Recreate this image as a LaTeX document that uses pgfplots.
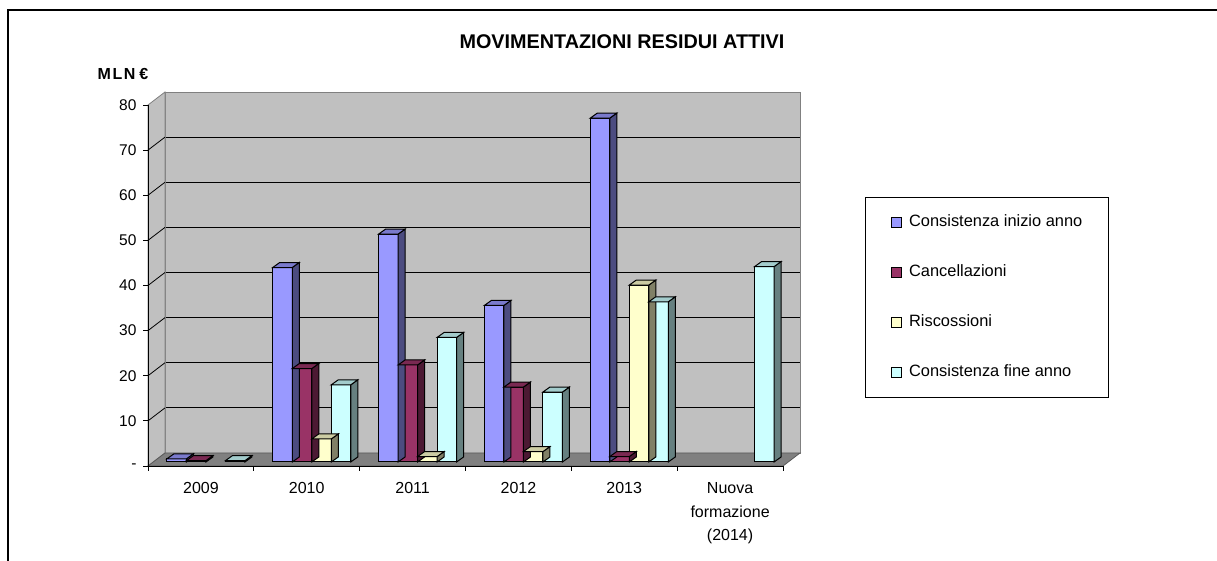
\documentclass[border=0pt]{standalone}
\usepackage{fontspec}
\setmainfont{Liberation Sans}
\usepackage{pgfplots}
\usepackage{pgfplotstable}
\pgfplotsset{compat=1.18}

\definecolor{cblue}{RGB}{153,153,255}
\definecolor{cred}{RGB}{153,51,102}
\definecolor{cyel}{RGB}{255,255,204}
\definecolor{ccyan}{RGB}{204,255,255}
\definecolor{wallc}{RGB}{192,192,192}
\definecolor{floorc}{RGB}{128,128,128}

\pgfplotstableread{
x blue red yel cyan
0 0.7 0.3 nan 0.3
1 43.1 20.7 5.1 17.1
2 50.5 21.5 1.2 27.6
3 34.7 16.6 2.3 15.5
4 76.2 1.2 39.2 35.5
5 nan nan nan 43.3
}\datatable

% 3D side + top face of a bar, drawn at the bar top
\newcommand\declbar[2]{%
  \pgfdeclareplotmark{#1}{%
    \pgfmathsetlengthmacro\hh{\val*4.5125pt}%
    \filldraw[draw=black,line width=1pt,fill=#2!50!black]
      (9.75pt,0pt) -- (16.75pt,5pt) -- (16.75pt,5pt-\hh) -- (9.75pt,-\hh) -- cycle;
    \filldraw[draw=black,line width=1pt,fill=#2!80!black]
      (-9.75pt,0pt) -- (-2.75pt,5pt) -- (16.75pt,5pt) -- (9.75pt,0pt) -- cycle;
  }}
\declbar{b3dblue}{cblue}
\declbar{b3dred}{cred}
\declbar{b3dyel}{cyel}
\declbar{b3dcyan}{ccyan}

\pgfplotsset{
  sqlegend/.style={legend image code/.code={\draw[##1,draw=black,line width=0.7pt] (0pt,-5pt) rectangle (10pt,5pt);}},
  frontbar/.style={ybar, bar width=19.5pt, draw=black, line width=1pt, sqlegend},
  face/.style={forget plot, only marks, mark=#1, visualization depends on={y\as\val}},
}

\begin{document}
\begin{tikzpicture}[x=1pt,y=1pt]
\path[use as bounding box] (0pt,0pt) rectangle (1217pt,561pt);
% outer frame
\draw[black, line width=1.2pt] (8pt,0pt) -- (8pt,551pt) -- (1217pt,551pt);

% title and unit
\node[anchor=west, font=\bfseries\fontsize{19.8}{23}\selectfont] at (456pt,519pt) {MOVIMENTAZIONI RESIDUI ATTIVI};
\node[font=\bfseries\fontsize{16}{19}\selectfont] at (123pt,487pt) {M\kern1.5pt L\kern1.5pt N\kern4pt €};

% back wall with gridlines
\begin{axis}[at={(165pt,108pt)}, anchor=south west, scale only axis,
  width=635pt, height=361pt, xmin=0, xmax=1, ymin=0, ymax=80,
  xtick=\empty, ytick={10,20,...,70}, yticklabels={}, major tick length=0pt,
  ymajorgrids, grid style={black, line width=0.8pt},
  axis background/.style={fill=wallc},
  axis line style={draw=floorc, line width=0.8pt}]
\end{axis}

% side wall and floor
\filldraw[fill=wallc, draw=floorc, line width=0.8pt] (148pt,95pt) -- (165pt,108pt) -- (165pt,469pt) -- (148pt,456pt) -- cycle;
\foreach \v in {10,20,...,70} {
  \draw[black, line width=0.8pt] (148pt,95pt+\v*4.5125pt) -- (165pt,108pt+\v*4.5125pt);
}
\filldraw[fill=floorc, draw=floorc!70!black, line width=0.8pt] (148pt,95pt) -- (783pt,95pt) -- (800pt,108pt) -- (165pt,108pt) -- cycle;

% front axis: lines, ticks and labels
\begin{axis}[at={(148pt,95pt)}, anchor=south west, scale only axis,
  width=635pt, height=361pt, xmin=-0.5, xmax=5.5, ymin=0, ymax=80,
  axis x line*=bottom, axis y line*=left,
  axis line style={black, line width=0.8pt},
  tick align=outside, major tick length=5pt, minor tick length=5pt,
  xtick={0,1,2,3,4,5},
  xticklabels={2009,2010,2011,2012,2013,{Nuova\\formazione\\(2014)}},
  minor xtick={-0.5,0.5,1.5,2.5,3.5,4.5,5.5},
  major x tick style={draw=none},
  minor x tick style={black, line width=0.8pt},
  ytick={0,10,...,80},
  yticklabels={-,10,20,30,40,50,60,70,80},
  ytick style={black, line width=0.8pt},
  xticklabel style={font=\fontsize{16}{23.5}\selectfont, align=center, yshift=-8pt},
  yticklabel style={font=\fontsize{15.5}{18}\selectfont, xshift=-3pt},
]
\end{axis}

% bars
\begin{axis}[at={(153pt,99pt)}, anchor=south west, scale only axis,
  width=635pt, height=361pt, xmin=-0.5, xmax=5.5, ymin=0, ymax=80,
  axis lines=none, clip=false,
  legend style={at={(1.12126,0.73407)}, anchor=north west, draw=black, line width=0.8pt,
    inner xsep=26pt, inner ysep=17pt, row sep=34pt, column sep=7pt,
    nodes={inner sep=0pt, text height=12pt, text depth=4pt},
    font=\fontsize{16.4}{19}\selectfont},
  legend cell align=left,
]
\addplot[frontbar, fill=cblue, bar shift=-29.25pt] table[x=x, y=blue] {\datatable};
\addlegendentry{Consistenza inizio anno}
\addplot[face=b3dblue, mark options={xshift=-29.25pt}] table[x=x, y=blue] {\datatable};
\addplot[frontbar, fill=cred, bar shift=-9.75pt] table[x=x, y=red] {\datatable};
\addlegendentry{Cancellazioni}
\addplot[face=b3dred, mark options={xshift=-9.75pt}] table[x=x, y=red] {\datatable};
\addplot[frontbar, fill=cyel, bar shift=9.75pt] table[x=x, y=yel] {\datatable};
\addlegendentry{Riscossioni}
\addplot[face=b3dyel, mark options={xshift=9.75pt}] table[x=x, y=yel] {\datatable};
\addplot[frontbar, fill=ccyan, bar shift=29.25pt] table[x=x, y=cyan] {\datatable};
\addlegendentry{Consistenza fine anno}
\addplot[face=b3dcyan, mark options={xshift=29.25pt}] table[x=x, y=cyan] {\datatable};
\end{axis}
\end{tikzpicture}
\end{document}
